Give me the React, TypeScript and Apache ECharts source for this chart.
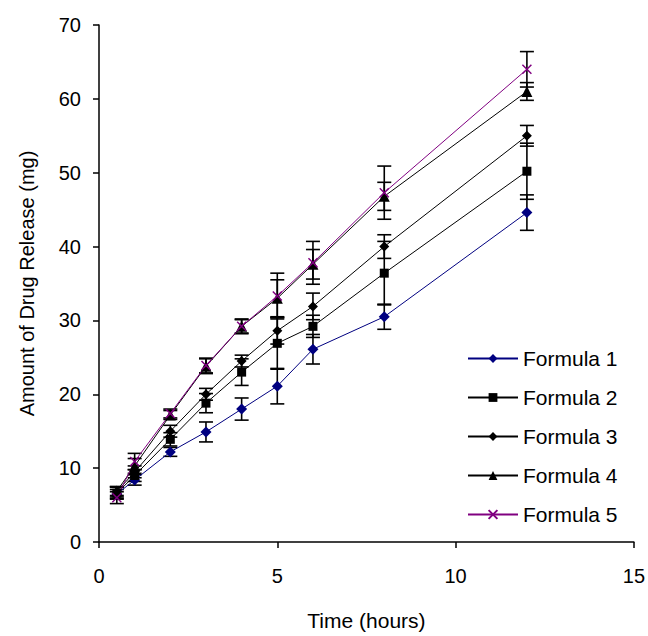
import React, { useEffect, useRef } from "react";
import * as echarts from "echarts";

const times = [0.5, 1, 2, 3, 4, 5, 6, 8, 12];
const formula1 = [6.5, 8.4, 12.2, 14.9, 18.0, 21.1, 26.1, 30.5, 44.6];
const formula1Err = [0.6, 0.7, 0.6, 1.35, 1.5, 2.4, 2.0, 1.7, 2.4];
const formula2 = [6.6, 9.0, 13.9, 18.8, 23.0, 26.9, 29.2, 36.4, 50.2];
const formula2Err = [0.8, 0.8, 0.9, 1.3, 1.8, 3.5, 1.5, 4.3, 3.8];
const formula3 = [6.8, 9.5, 15.0, 20.0, 24.5, 28.6, 31.9, 40.0, 55.0];
const formula3Err = [0.7, 0.8, 0.8, 0.8, 0.8, 1.8, 1.8, 1.6, 1.4];
const formula4 = [6.9, 10.3, 17.2, 23.8, 29.2, 33.0, 37.6, 46.8, 61.0];
const formula4Err = [0.6, 1.0, 0.6, 1.0, 0.9, 2.5, 2.0, 1.9, 1.2];
const formula5 = [6.0, 10.9, 17.4, 23.9, 29.2, 33.3, 37.8, 47.3, 64.0];
const formula5Err = [0.8, 1.1, 0.6, 1.0, 1.0, 3.1, 2.9, 3.6, 2.4];

const seriesNames = ["Formula 1", "Formula 2", "Formula 3", "Formula 4", "Formula 5"];
const FONT = "'Liberation Sans', Arial, sans-serif";

export default function App() {
  const ref = useRef<HTMLDivElement>(null);
  useEffect(() => {
    if (!ref.current) return;
    const chart = echarts.init(ref.current, null, { renderer: "svg" });
    const values = [formula1, formula2, formula3, formula4, formula5];
    const errs = [formula1Err, formula2Err, formula3Err, formula4Err, formula5Err];
    const colors = ["#000080", "#000000", "#000000", "#000000", "#800080"];
    const symbols = [
      "diamond",
      "rect",
      "diamond",
      "triangle",
      "path://M0,0L10,10M10,0L0,10",
    ];
    const sizes = [11, 9, 10, 11, 9];

    const errData: number[][] = [];
    values.forEach((vals, si) => {
      vals.forEach((v, i) => {
        errData.push([times[i], v - errs[si][i], v + errs[si][i]]);
      });
    });

    const errSeries = {
      type: "custom",
      name: "errors",
      z: 1,
      silent: true,
      renderItem: (params: any, api: any) => {
        const x = api.value(0);
        const lo = api.coord([x, api.value(1)]);
        const hi = api.coord([x, api.value(2)]);
        const hw = 7;
        const style = { stroke: "#000", lineWidth: 1.6 };
        return {
          type: "group",
          children: [
            { type: "line", shape: { x1: lo[0], y1: lo[1], x2: hi[0], y2: hi[1] }, style },
            { type: "line", shape: { x1: lo[0] - hw, y1: lo[1], x2: lo[0] + hw, y2: lo[1] }, style },
            { type: "line", shape: { x1: hi[0] - hw, y1: hi[1], x2: hi[0] + hw, y2: hi[1] }, style },
          ],
        };
      },
      encode: { x: 0, y: [1, 2] },
      data: errData,
    };

    const lineSeries = values.map((vals, si) => ({
      type: "line",
      name: seriesNames[si],
      z: 3,
      data: vals.map((v, i) => [times[i], v]),
      symbol: symbols[si],
      symbolSize: sizes[si],
      showAllSymbol: true,
      lineStyle: { color: colors[si], width: 1 },
      itemStyle:
        si === 4
          ? { color: "none", borderColor: colors[si], borderWidth: 1.5 }
          : { color: colors[si], borderWidth: 0 },
    }));

    chart.setOption({
      animation: false,
      backgroundColor: "#fff",
      grid: { left: 99, right: 13, top: 25, bottom: 90 },
      legend: {
        data: seriesNames,
        orient: "vertical",
        left: 462,
        top: 343,
        itemWidth: 50,
        itemHeight: 11,
        itemGap: 18,
        textStyle: { fontFamily: FONT, fontSize: 21, color: "#000" },
      },
      xAxis: {
        type: "value",
        min: 0,
        max: 15,
        interval: 5,
        name: "Time (hours)",
        nameLocation: "middle",
        nameGap: 68,
        nameTextStyle: { fontFamily: FONT, fontSize: 21, color: "#000" },
        axisLine: { onZero: false, lineStyle: { color: "#000", width: 1.5 } },
        axisTick: { inside: false, length: 6, lineStyle: { color: "#000", width: 1.5 } },
        axisLabel: { fontFamily: FONT, fontSize: 20, color: "#000", margin: 24 },
        splitLine: { show: false },
      },
      yAxis: {
        type: "value",
        min: 0,
        max: 70,
        interval: 10,
        name: "Amount of Drug Release (mg)",
        nameLocation: "middle",
        nameGap: 62,
        nameTextStyle: { fontFamily: FONT, fontSize: 20, color: "#000" },
        axisLine: { show: true, lineStyle: { color: "#000", width: 1.5 } },
        axisTick: { show: true, inside: false, length: 6, lineStyle: { color: "#000", width: 1.5 } },
        axisLabel: { fontFamily: FONT, fontSize: 20, color: "#000", margin: 18 },
        splitLine: { show: false },
      },
      series: [errSeries, ...lineSeries],
    });
    return () => chart.dispose();
  }, []);
  return (
    <div
      ref={ref}
      style={{ position: "absolute", left: 0, top: 0, width: 648, height: 636 }}
    />
  );
}
